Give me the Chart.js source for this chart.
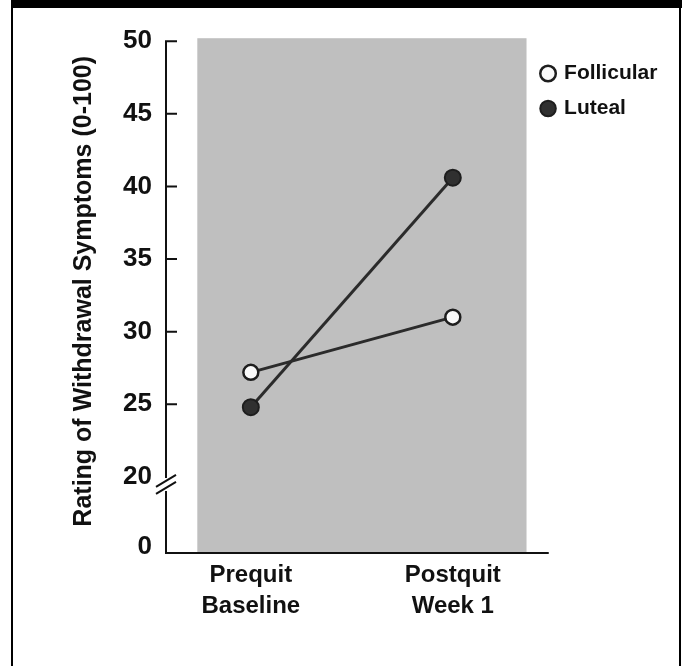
<!DOCTYPE html>
<html><head><meta charset="utf-8">
<script src="https://cdn.jsdelivr.net/npm/chart.js@4/dist/chart.umd.min.js"></script>
<style>
html,body{margin:0;padding:0;background:#fff;}
#wrap{position:relative;width:682px;height:666px;overflow:hidden;background:#fff;}
#c{position:absolute;left:0;top:0;}
.b{position:absolute;background:#000;}
</style></head><body>
<div id="wrap">
<canvas id="c" width="682" height="666"></canvas>
<div class="b" style="left:11px;top:0;width:671px;height:8px"></div>
<div class="b" style="left:11px;top:0;width:2px;height:666px"></div>
<div class="b" style="left:679px;top:0;width:2px;height:666px"></div>
</div>
<script>
// ---- data ----
const categories = [['Prequit', 'Baseline'], ['Postquit', 'Week 1']];
const seriesNames = ['Follicular', 'Luteal'];
const follicular = [27.2, 31.0];
const luteal = [24.8, 40.6];
const yTickValues = [20, 25, 30, 35, 40, 45, 50];
const yBreakLabel = '0';

// axis-break geometry (virtual scale: the 0 origin sits just below 20)
const AXIS_ORIGIN = 14.76;
const ZERO_LABEL_AT = 15.17;

const FONT = "'Liberation Sans', Arial, sans-serif";
Chart.defaults.font.family = FONT;

const decor = {
  id: 'decor',
  beforeDatasetsDraw(chart) {
    const {ctx, chartArea, scales: {x, y}} = chart;
    const ax = chartArea.left;
    const bottom = chartArea.bottom;
    ctx.save();
    // grey panel
    const gl = x.getPixelForValue(-0.265), gr = x.getPixelForValue(1.365);
    const gt = y.getPixelForValue(50) - 3;
    ctx.fillStyle = '#bfbfbf';
    ctx.fillRect(gl, gt, gr - gl, bottom - gt);
    // axes
    ctx.strokeStyle = '#111';
    ctx.lineWidth = 2;
    ctx.lineCap = 'butt';
    const p20 = y.getPixelForValue(20);
    ctx.beginPath();
    ctx.moveTo(ax, y.getPixelForValue(50));
    ctx.lineTo(ax, p20 + 1);
    ctx.moveTo(ax, p20 + 14);
    ctx.lineTo(ax, bottom + 1);
    ctx.moveTo(ax - 1, bottom);
    ctx.lineTo(x.getPixelForValue(1.475), bottom);
    // ticks (inward)
    yTickValues.filter(v => v !== 20).forEach(v => {
      const py = y.getPixelForValue(v);
      ctx.moveTo(ax - 1, py);
      ctx.lineTo(ax + 11, py);
    });
    ctx.stroke();
    // break marks
    ctx.lineWidth = 2;
    ctx.beginPath();
    [4, 11].forEach(o => {
      ctx.moveTo(ax - 10, p20 + o + 6);
      ctx.lineTo(ax + 10, p20 + o - 6);
    });
    ctx.stroke();
    ctx.restore();
  }
};

new Chart(document.getElementById('c'), {
  type: 'line',
  data: {
    datasets: [
      {
        label: seriesNames[0],
        data: follicular.map((v, i) => ({x: i, y: v})),
        borderColor: '#2b2b2b',
        borderWidth: 3,
        pointRadius: 7.5,
        pointBorderWidth: 2.5,
        pointBackgroundColor: '#fafafa',
        pointBorderColor: '#1e1e1e',
        tension: 0
      },
      {
        label: seriesNames[1],
        data: luteal.map((v, i) => ({x: i, y: v})),
        borderColor: '#2b2b2b',
        borderWidth: 3,
        pointRadius: 8,
        pointBorderWidth: 2,
        pointBackgroundColor: '#303030',
        pointBorderColor: '#1e1e1e',
        tension: 0
      }
    ]
  },
  options: {
    responsive: false,
    animation: false,
    devicePixelRatio: 1,
    layout: {padding: {left: 60, right: 14.6, top: 16, bottom: 43}},
    plugins: {
      tooltip: {enabled: false},
      legend: {
        position: 'right',
        align: 'start',
        title: {display: true, text: '', font: {size: 20}, padding: {top: 0, bottom: 9}},
        labels: {
          usePointStyle: true,
          pointStyle: 'circle',
          boxWidth: 11,
          boxHeight: 11,
          padding: 14,
          color: '#111',
          font: {family: FONT, size: 21, weight: 'bold'}
        }
      }
    },
    scales: {
      x: {
        type: 'linear',
        min: -0.42,
        max: 1.375,
        grid: {display: false, drawTicks: false},
        border: {display: false},
        afterBuildTicks: s => { s.ticks = categories.map((c, i) => ({value: i})); },
        afterFit: s => { s.height = 70; },
        ticks: {
          autoSkip: false,
          maxRotation: 0,
          minRotation: 0,
          padding: 7,
          color: '#111',
          font: {size: 24, weight: 'bold', lineHeight: 1.3},
          callback: v => categories[v]
        }
      },
      y: {
        type: 'linear',
        min: AXIS_ORIGIN,
        max: 50.8,
        grid: {display: false, drawTicks: false},
        border: {display: false},
        afterBuildTicks: s => { s.ticks = [ZERO_LABEL_AT, ...yTickValues].map(v => ({value: v})); },
        afterFit: s => { s.width = 106; },
        ticks: {
          padding: 14,
          color: '#111',
          font: {size: 26, weight: 'bold'},
          callback: v => (v === ZERO_LABEL_AT ? yBreakLabel : String(v))
        },
        title: {
          display: true,
          text: 'Rating of Withdrawal Symptoms (0-100)',
          color: '#111',
          font: {size: 25, weight: 'bold'},
          padding: {top: 9.5, bottom: 0}
        }
      }
    }
  },
  plugins: [decor]
});
</script>
</body></html>
